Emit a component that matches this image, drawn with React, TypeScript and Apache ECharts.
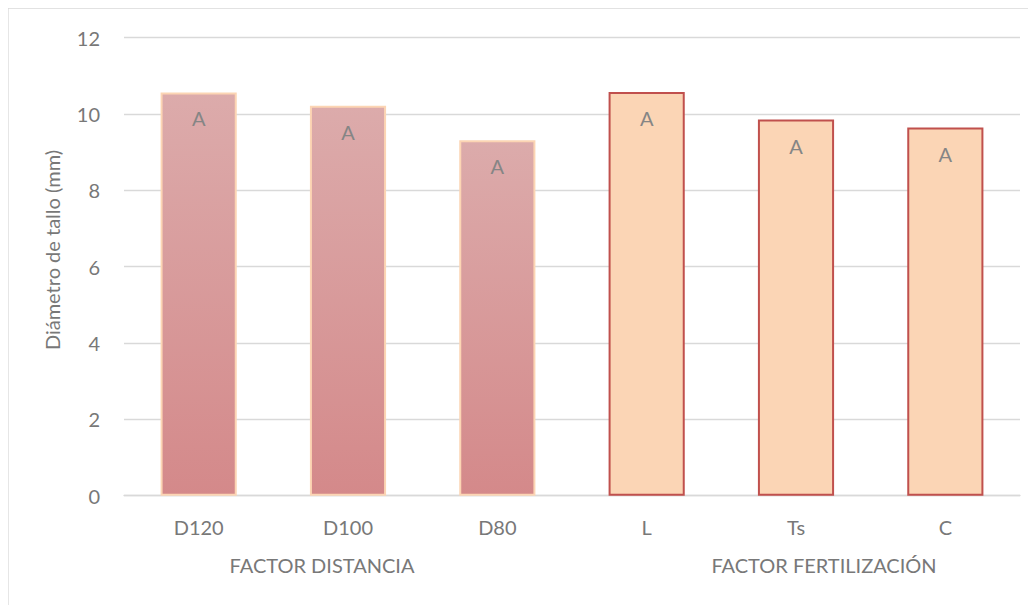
import React, { useEffect, useRef } from "react";
import * as echarts from "echarts";

const categories = ["D120", "D100", "D80", "L", "Ts", "C"];
const values = [10.56, 10.21, 9.31, 10.57, 9.85, 9.64];
const groups = [0, 0, 0, 1, 1, 1];
const letters = ["A", "A", "A", "A", "A", "A"];
const groupNames = ["FACTOR DISTANCIA", "FACTOR FERTILIZACIÓN"];
const yTicks = [0, 2, 4, 6, 8, 10, 12];
const yTitle = "Diámetro de tallo (mm)";

const FONT = "Lato";
const TEXT = "#787878";
const FS = 20;

export default function App() {
  const ref = useRef<HTMLDivElement>(null);
  useEffect(() => {
    if (!ref.current) return;
    const chart = echarts.init(ref.current, undefined, { renderer: "svg" });
    const styles = [
      {
        color: new echarts.graphic.LinearGradient(0, 0, 0, 1, [
          { offset: 0, color: "#DCABAB" },
          { offset: 1, color: "#D4898A" },
        ]),
        borderColor: "#FCD5B4",
        borderWidth: 2,
      },
      { color: "#FBD5B5", borderColor: "#C0504D", borderWidth: 2 },
    ];
    chart.setOption({
      animation: false,
      backgroundColor: "#ffffff",
      textStyle: { fontFamily: FONT },
      grid: { left: 116, right: 16, top: 29.5, bottom: 109.3 },
      xAxis: {
        type: "category",
        data: categories,
        axisLine: { show: true, lineStyle: { color: "#D9D9D9", width: 1.3 } },
        axisTick: { show: false },
        axisLabel: { color: TEXT, fontSize: FS, fontFamily: FONT, margin: 21 },
      },
      yAxis: {
        type: "value",
        min: yTicks[0],
        max: yTicks[yTicks.length - 1],
        interval: 2,
        axisLine: { show: false },
        axisTick: { show: false },
        splitLine: { lineStyle: { color: "#D9D9D9", width: 1.3 } },
        axisLabel: { color: TEXT, fontSize: FS, fontFamily: FONT, margin: 24 },
      },
      series: [
        {
          type: "bar",
          barWidth: "51%",
          data: values.map((v, i) => ({
            value: v,
            itemStyle: styles[groups[i]],
            label: { formatter: letters[i] },
          })),
          label: {
            show: true,
            position: "insideTop",
            distance: 16,
            color: "#858585",
            fontSize: FS,
            fontFamily: FONT,
          },
        },
      ],
      graphic: [
        {
          type: "rect",
          shape: { x: 0, y: 0, width: 1100, height: 700 },
          style: { fill: "none", stroke: "#D9D9D9", lineWidth: 1.3 },
          silent: true,
        },
        {
          type: "text",
          x: 44,
          y: 242,
          rotation: Math.PI / 2,
          style: {
            text: yTitle,
            fill: TEXT,
            fontSize: FS,
            fontFamily: FONT,
            align: "center",
            verticalAlign: "middle",
          },
        },
        {
          type: "text",
          x: 314,
          y: 557,
          style: {
            text: groupNames[0],
            fill: TEXT,
            fontSize: FS,
            fontFamily: FONT,
            align: "center",
            verticalAlign: "middle",
          },
        },
        {
          type: "text",
          x: 816,
          y: 557,
          style: {
            text: groupNames[1],
            fill: TEXT,
            fontSize: FS,
            fontFamily: FONT,
            align: "center",
            verticalAlign: "middle",
          },
        },
      ],
    });
    return () => chart.dispose();
  }, []);
  return <div ref={ref} style={{ width: 1028, height: 597 }} />;
}
